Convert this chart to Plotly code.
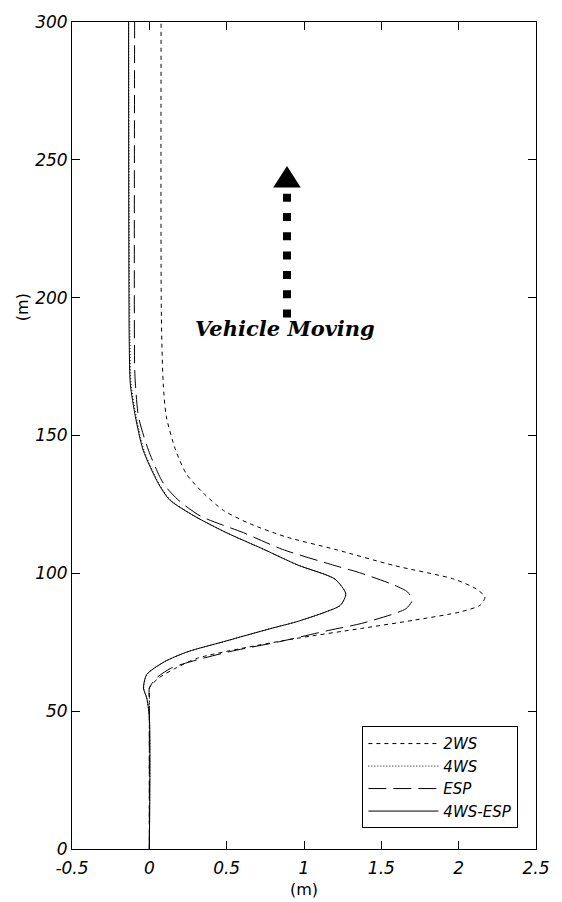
import plotly.graph_objects as go

# ---- data (lateral offset x [m] vs. travelled distance y [m]) ----
y_2ws = [0, 55, 58.4, 62, 65.6, 69.2, 72.7, 76.4, 80, 83, 86, 88.5, 91.4, 94.3, 97.9,
         102.8, 108.7, 113.2, 118, 122.8, 128.8, 136, 144.7, 156.8, 168.7, 193, 300]
x_2ws = [0, 0, 0, 0.06, 0.17, 0.31, 0.59, 0.95, 1.37, 1.71, 2.01, 2.14, 2.17, 2.115, 1.97,
         1.585, 1.2, 0.885, 0.65, 0.48, 0.355, 0.24, 0.17, 0.11, 0.09, 0.078, 0.076]

y_4ws = [0, 48, 54.8, 58.4, 63.3, 68, 71.6, 75.2, 79.9, 82.4, 86, 88.4, 92.5, 97.9,
         103, 108.7, 114.7, 120.8, 126.7, 132.7, 144.7, 156.8, 168.7, 184, 300]
x_4ws = [0, 0, -0.017, -0.036, -0.015, 0.10, 0.25, 0.48, 0.78, 0.95, 1.14, 1.235, 1.27, 1.20,
         0.96, 0.74, 0.50, 0.29, 0.135, 0.06, -0.035, -0.085, -0.118, -0.125, -0.134]

y_esp = [0, 55, 58.4, 62, 65.6, 68, 71.6, 75.2, 79.3, 81.8, 85.4, 87.2, 90.3, 93.2, 95.7,
         100.4, 102.8, 108.7, 114.7, 120.8, 126.7, 132.7, 144.7, 156.8, 168.7, 175, 300]
x_esp = [0, 0, 0, 0.045, 0.14, 0.27, 0.52, 0.84, 1.16, 1.37, 1.585, 1.66, 1.70, 1.67, 1.585,
         1.35, 1.2, 0.86, 0.61, 0.33, 0.185, 0.09, -0.006, -0.07, -0.09, -0.095, -0.095]

y_4wsesp = [0, 48, 54.8, 58.4, 63.3, 68, 71.6, 75.2, 79.9, 82.4, 86, 88.4, 92.5, 97.9,
            103, 108.7, 114.7, 120.8, 126.7, 132.7, 144.7, 156.8, 168.7, 184, 300]
x_4wsesp = [0, 0, -0.017, -0.038, -0.017, 0.10, 0.25, 0.48, 0.78, 0.95, 1.14, 1.235, 1.27, 1.20,
            0.96, 0.74, 0.50, 0.29, 0.13, 0.057, -0.04, -0.09, -0.123, -0.13, -0.134]

x_ticks = [-0.5, 0, 0.5, 1, 1.5, 2, 2.5]
x_tick_text = ["-0.5", "0", "0.5", "1", "1.5", "2", "2.5"]
y_ticks = [0, 50, 100, 150, 200, 250, 300]

annot_text = "Vehicle Moving"
arrow_x = 0.89
arrow_shaft = (192.8, 239.0)
arrow_head = (240.0, 247.8)
arrow_half_w = 0.089

TICK_FONT = dict(family="DejaVu Sans", size=17, color="black", style="italic")

fig = go.Figure()
series = [
    ("4WS", x_4ws, y_4ws, "1px,2px"),
    ("2WS", x_2ws, y_2ws, "4px,4px"),
    ("ESP", x_esp, y_esp, "18px,7px"),
    ("4WS-ESP", x_4wsesp, y_4wsesp, "solid"),
]
order = {"2WS": 0, "4WS": 1, "ESP": 2, "4WS-ESP": 3}
for name, xs, ys, dash in series:
    fig.add_trace(go.Scatter(
        x=xs, y=ys, mode="lines", name=name,
        line=dict(color="black", width=1, dash=dash, shape="spline", smoothing=0.7),
        legendrank=order[name] + 1,
    ))

# arrow shaft (dotted squares) and head
fig.add_shape(type="line", xref="x", yref="y",
              x0=arrow_x, x1=arrow_x, y0=arrow_shaft[0], y1=arrow_shaft[1],
              line=dict(color="black", width=8, dash="8px,11.3px"))
fig.add_shape(type="path", xref="x", yref="y",
              path=(f"M {arrow_x - arrow_half_w},{arrow_head[0]} "
                    f"L {arrow_x + arrow_half_w},{arrow_head[0]} "
                    f"L {arrow_x},{arrow_head[1]} Z"),
              fillcolor="black", line=dict(color="black", width=0))

fig.add_annotation(x=0.88, y=188.8, xref="x", yref="y", text=annot_text, showarrow=False,
                   xanchor="center", yanchor="middle",
                   font=dict(family="DejaVu Serif", size=21, color="black",
                             weight="bold", style="italic"))
# axis titles
fig.add_annotation(x=0.5, y=-0.0495, xref="paper", yref="paper", text="(m)", showarrow=False,
                   xanchor="center", yanchor="middle",
                   font=dict(family="DejaVu Sans", size=16, color="black"))
fig.add_annotation(x=-0.108, y=0.655, xref="paper", yref="paper", text="(m)", showarrow=False,
                   xanchor="center", yanchor="middle",
                   textangle=-90, font=dict(family="DejaVu Sans", size=16, color="black"))

axis_common = dict(showgrid=False, zeroline=False, showline=True, linecolor="black",
                   linewidth=1, mirror="ticks", ticks="inside", ticklen=8,
                   tickcolor="black", tickwidth=1, tickfont=TICK_FONT)

fig.update_layout(
    width=562, height=902,
    margin=dict(l=72, r=18, t=16, b=53),
    paper_bgcolor="white", plot_bgcolor="white",
    showlegend=True,
    legend=dict(x=0.962, y=0.025, xanchor="right", yanchor="bottom",
                bgcolor="white", bordercolor="black", borderwidth=1,
                font=dict(family="DejaVu Sans", size=15, color="black", style="italic"),
                tracegroupgap=0, itemwidth=70),
    xaxis=dict(range=[-0.5, 2.5], tickvals=x_ticks, ticktext=x_tick_text,
               ticklabelstandoff=4, **axis_common),
    yaxis=dict(range=[0, 300], tickvals=y_ticks, **axis_common),
)

fig.write_html("out.html")
